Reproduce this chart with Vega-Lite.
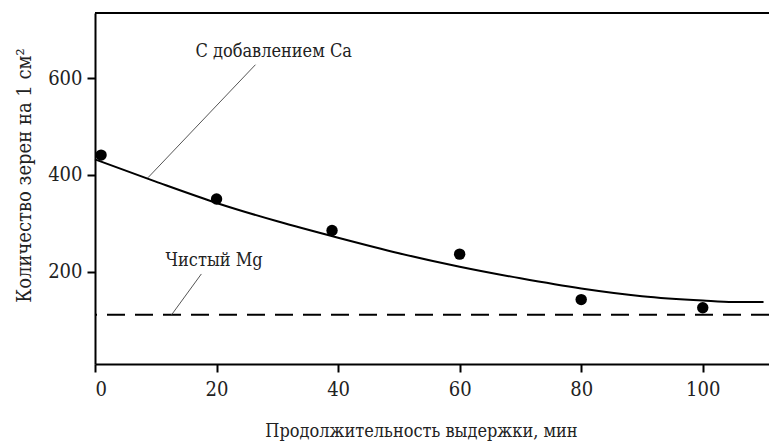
{
  "$schema": "https://vega.github.io/schema/vega-lite/v6.json",
  "width": 674,
  "height": 351,
  "autosize": {"type": "none"},
  "padding": {"left": 95, "top": 13, "right": 0, "bottom": 77},
  "background": "white",
  "config": {
    "view": {"stroke": null},
    "font": "DejaVu Serif Condensed",
    "axis": {
      "grid": false,
      "domainColor": "black",
      "domainWidth": 2,
      "tickColor": "black",
      "tickWidth": 2,
      "tickSize": 8,
      "labelFont": "DejaVu Serif Condensed",
      "labelFontSize": 20,
      "labelColor": "#222",
      "titleFont": "DejaVu Serif Condensed",
      "titleFontSize": 18,
      "titleFontWeight": "normal",
      "titleColor": "#222"
    }
  },
  "datasets": {
    "points": [
      {"t": 1, "n": 441}, {"t": 20, "n": 350}, {"t": 39, "n": 285},
      {"t": 60, "n": 236}, {"t": 80, "n": 142}, {"t": 100, "n": 125}
    ],
    "curve": [
      {"t": 0, "n": 432}, {"t": 10, "n": 386}, {"t": 20, "n": 342}, {"t": 30, "n": 304},
      {"t": 40, "n": 270}, {"t": 50, "n": 238}, {"t": 60, "n": 210}, {"t": 70, "n": 186},
      {"t": 80, "n": 165}, {"t": 90, "n": 149}, {"t": 100, "n": 140}, {"t": 105, "n": 137},
      {"t": 110, "n": 137}
    ],
    "pure": [{"n": 110.5}],
    "leaders": [
      {"g": "ca", "t": 8.7, "n": 394}, {"g": "ca", "t": 26.4, "n": 628},
      {"g": "mg", "t": 12.6, "n": 110.5}, {"g": "mg", "t": 17.5, "n": 195}
    ],
    "labels": [
      {"t": 29.4, "n": 655, "label": "С добавлением Ca"},
      {"t": 19.6, "n": 221, "label": "Чистый Mg"}
    ],
    "frame": [{"top": 735}]
  },
  "encoding": {
    "x": {
      "field": "t", "type": "quantitative",
      "scale": {"domain": [0, 110.9], "nice": false, "zero": false},
      "axis": {
        "values": [0, 20, 40, 60, 80, 100],
        "labelPadding": 7,
        "title": "Продолжительность выдержки, мин",
        "titleX": 326, "titleY": 72, "titleBaseline": "alphabetic"
      }
    },
    "y": {
      "field": "n", "type": "quantitative",
      "scale": {"domain": [8.7, 735], "nice": false, "zero": false},
      "axis": {
        "values": [200, 400, 600],
        "labelPadding": 5,
        "title": "Количество зерен на 1 см²",
        "titleFontSize": 20,
        "titleX": -71, "titleY": 162, "titleBaseline": "middle"
      }
    }
  },
  "layer": [
    {
      "data": {"name": "frame"},
      "mark": {"type": "rule", "color": "black", "strokeWidth": 2},
      "encoding": {"x": null, "y": {"field": "top", "type": "quantitative"}}
    },
    {
      "data": {"name": "pure"},
      "mark": {"type": "rule", "color": "black", "strokeWidth": 2, "strokeDash": [18, 10]},
      "encoding": {"x": null}
    },
    {
      "data": {"name": "leaders"},
      "mark": {"type": "line", "color": "#555", "strokeWidth": 1},
      "encoding": {"detail": {"field": "g"}}
    },
    {
      "data": {"name": "curve"},
      "mark": {"type": "line", "color": "black", "strokeWidth": 2, "interpolate": "monotone"},
      "encoding": {}
    },
    {
      "data": {"name": "points"},
      "mark": {"type": "circle", "color": "black", "opacity": 1, "size": 130},
      "encoding": {}
    },
    {
      "data": {"name": "labels"},
      "mark": {"type": "text", "font": "DejaVu Serif Condensed", "fontSize": 18, "color": "#222", "baseline": "middle"},
      "encoding": {"text": {"field": "label"}}
    }
  ]
}
